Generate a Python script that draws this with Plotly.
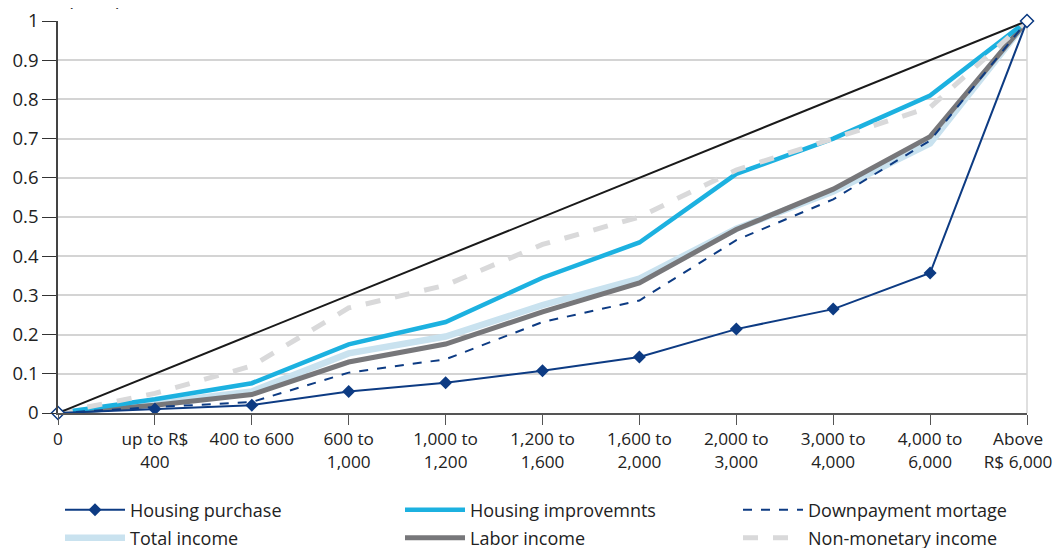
import plotly.graph_objects as go

NB = "\u00a0" * 4
categories = ["0", "up to R$<br>400", "400 to 600", "600 to<br>1,000", "1,000 to<br>1,200",
              "1,200 to<br>1,600", "1,600 to<br>2,000", "2,000 to<br>3,000", "3,000 to<br>4,000",
              "4,000 to<br>6,000", "Above" + NB + "<br>R$ 6,000" + NB]

equality = [0, 0.1, 0.2, 0.3, 0.4, 0.5, 0.6, 0.7, 0.8, 0.9, 1.0]
housing_purchase = [0, 0.01, 0.02, 0.055, 0.077, 0.108, 0.143, 0.214, 0.265, 0.357, 1.0]
housing_improvements = [0, 0.035, 0.076, 0.175, 0.232, 0.345, 0.435, 0.61, 0.70, 0.81, 1.0]
downpayment = [0, 0.015, 0.028, 0.103, 0.137, 0.232, 0.287, 0.441, 0.545, 0.695, 1.0]
total_income = [0, 0.025, 0.055, 0.152, 0.195, 0.275, 0.343, 0.47, 0.565, 0.688, 1.0]
labor_income = [0, 0.02, 0.047, 0.13, 0.176, 0.258, 0.332, 0.468, 0.571, 0.705, 1.0]
non_monetary = [0, 0.05, 0.12, 0.268, 0.326, 0.43, 0.50, 0.62, 0.70, 0.78, 1.0]

x = list(range(len(categories)))
FONT = "Open Sans"
TXT = "#222222"
W, H = 1061, 548

fig = go.Figure()
fig.add_trace(go.Scatter(x=x, y=total_income, name="Total income", mode="lines",
                         line=dict(color="#c9e2ef", width=6.5), legend="legend4", cliponaxis=False))
fig.add_trace(go.Scatter(x=x, y=labor_income, name="Labor income", mode="lines",
                         line=dict(color="#77777a", width=5), legend="legend5", cliponaxis=False))
fig.add_trace(go.Scatter(x=x, y=housing_improvements, name="Housing improvemnts", mode="lines",
                         line=dict(color="#1cb1e0", width=4.5), legend="legend2", cliponaxis=False))
fig.add_trace(go.Scatter(x=x, y=downpayment, name="Downpayment mortage", mode="lines",
                         line=dict(color="#0d3b83", width=2, dash="dash"), legend="legend3",
                         cliponaxis=False))
fig.add_trace(go.Scatter(x=x, y=non_monetary, name="Non-monetary income", mode="lines",
                         line=dict(color="#d9d9da", width=5, dash="dash"), legend="legend6",
                         cliponaxis=False))
fig.add_trace(go.Scatter(x=x, y=housing_purchase, name="Housing purchase", mode="lines+markers",
                         line=dict(color="#0d3b83", width=2),
                         marker=dict(symbol="diamond", size=10, color="#0d3b83"),
                         legend="legend", cliponaxis=False))
fig.add_trace(go.Scatter(x=x, y=equality, name="Equality", mode="lines",
                         line=dict(color="#1a1a1a", width=2), showlegend=False, cliponaxis=False))
fig.add_trace(go.Scatter(x=[x[0], x[-1]], y=[equality[0], equality[-1]], mode="markers",
                         marker=dict(symbol="diamond", size=10, color="white",
                                     line=dict(color="#0d3b83", width=1.5)),
                         showlegend=False, cliponaxis=False))


def leg(px, py):
    return dict(orientation="h", xref="container", yref="container",
                xanchor="left", yanchor="middle", x=px / W, y=1 - py / H,
                itemwidth=60, bgcolor="rgba(0,0,0,0)",
                font=dict(size=18, family=FONT, color=TXT))


fig.update_layout(
    width=W, height=H,
    margin=dict(l=50, r=42, t=13, b=143),
    paper_bgcolor="white", plot_bgcolor="white",
    font=dict(family=FONT, size=17, color=TXT),
    showlegend=True,
    xaxis=dict(
        tickmode="array", tickvals=x, ticktext=categories, automargin=False,
        ticklabeloverflow="allow",
        range=[0, 10], showgrid=False, zeroline=False,
        showline=True, linecolor="#555555", linewidth=1.5,
        ticks="outside", ticklen=10, tickcolor="#555555",
        tickfont=dict(size=17.2, family=FONT, color=TXT),
    ),
    yaxis=dict(
        range=[0, 1], tickvals=[0, 0.1, 0.2, 0.3, 0.4, 0.5, 0.6, 0.7, 0.8, 0.9, 1],
        ticktext=["0", "0.1", "0.2", "0.3", "0.4", "0.5", "0.6", "0.7", "0.8", "0.9", "1"],
        automargin=False, ticklabeloverflow="allow",
        showgrid=True, gridcolor="#d4d4d4", gridwidth=1.5, zeroline=False,
        showline=True, linecolor="#444444", linewidth=1.5,
        ticks="outside", ticklen=14, tickcolor="#333333",
        tickfont=dict(size=18.5, family=FONT, color=TXT),
    ),
    legend=leg(52, 502),
    legend2=leg(392, 502),
    legend3=leg(730, 502),
    legend4=leg(52, 530),
    legend5=leg(392, 530),
    legend6=leg(730, 530),
    shapes=[dict(type="line", xref="paper", yref="paper", x0=1, x1=1, y0=0, y1=1,
                 line=dict(color="#d4d4d4", width=1.5), layer="below")],
    annotations=[dict(text="(In R$)", xref="paper", yref="paper", x=0.038, y=1,
                      xanchor="center", yanchor="middle", yshift=22, showarrow=False,
                      font=dict(size=18, family=FONT, color=TXT))],
)

fig.write_html("out.html")
